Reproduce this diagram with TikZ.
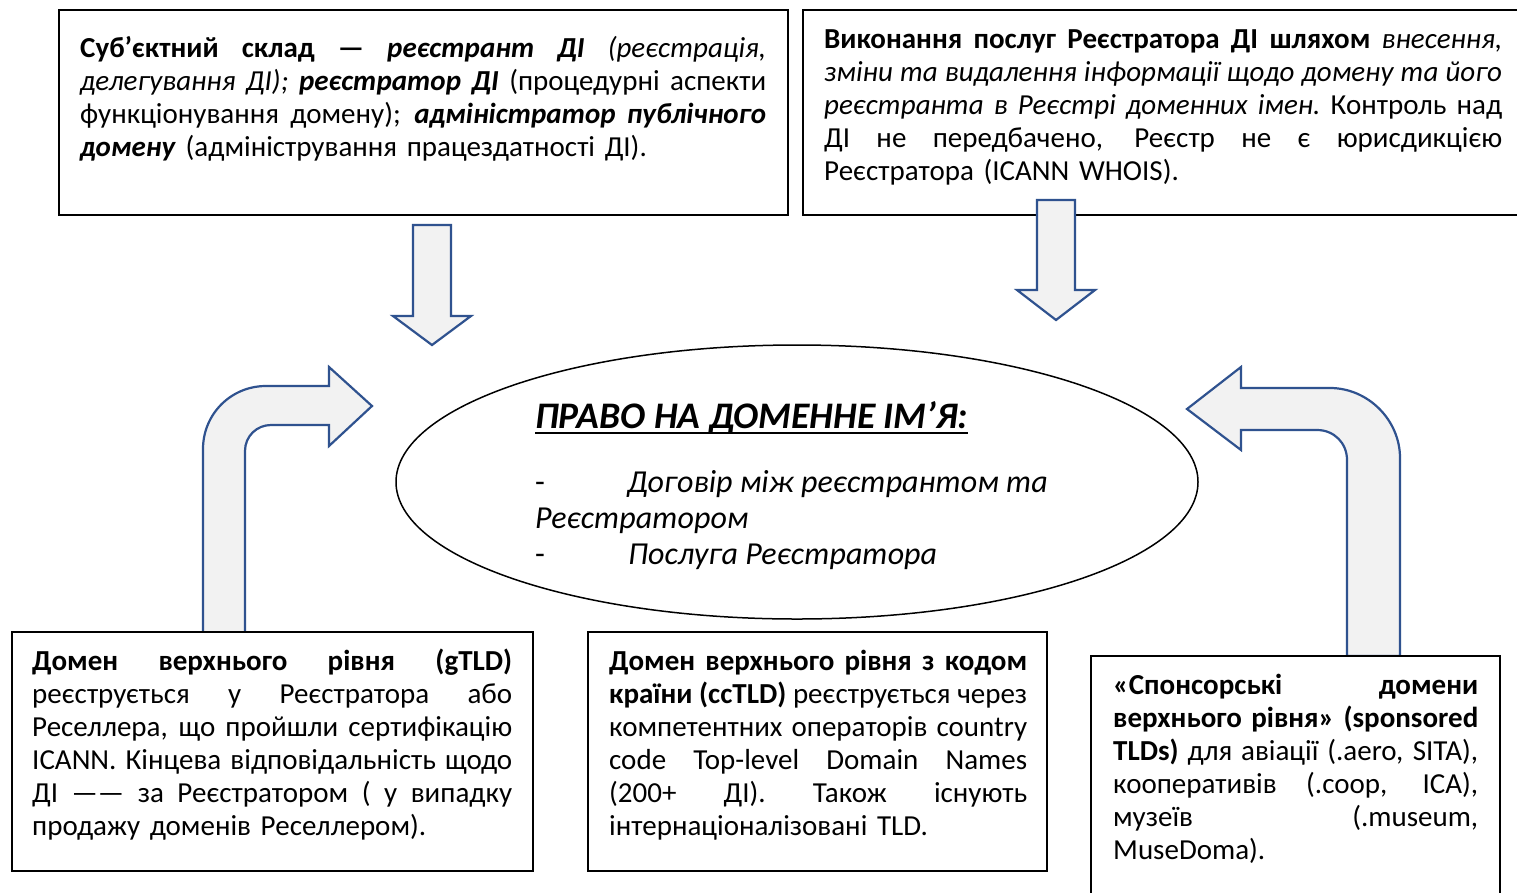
\documentclass[tikz,border=0pt]{standalone}
\usepackage{fontspec}
\setmainfont{Carlito}
\usetikzlibrary{shapes.geometric}
\definecolor{arrowfill}{HTML}{F2F2F2}
\definecolor{arrowline}{HTML}{2F528F}
\newdimen\jwid
\newcommand\jline[1]{\leavevmode\hbox to \jwid{\spaceskip=\fontdimen2\font plus 1fil minus 0.45\fontdimen2\font
  \xspaceskip=\spaceskip\relax #1}\\}
\begin{document}
\begin{tikzpicture}[x=1pt,y=-1pt,
  boxsty/.style={draw=black,line width=2pt,fill=white,inner sep=0pt},
  txt/.style={inner sep=0pt,align=left,anchor=base west,
    font=\fontsize{29}{33}\selectfont},
  eltxt/.style={inner sep=0pt,anchor=base west,font=\fontsize{32}{36}\selectfont\itshape},
  arrowsty/.style={draw=arrowline,fill=arrowfill,line width=2.2pt,line join=miter}]
\useasboundingbox (0,0) rectangle (1517,892);
\fill[white] (0,0) rectangle (1517,892);

% top boxes
\node[boxsty,minimum width=729pt,minimum height=205pt] (b1) at (423.5,112.5) {};
\node[boxsty,minimum width=730pt,minimum height=205pt] (b2) at (1168,112.5) {};

\node[txt,text width=686pt] (t1) at (80,57) {\jwid=686pt\relax
\jline{\textbf{Суб’єктний склад —} \textbf{\textit{реєстрант ДІ}} \textit{(реєстрація,}}
\jline{\textit{делегування ДІ);} \textbf{\textit{реєстратор ДІ}} (процедурні аспекти}
\jline{функціонування домену); \textbf{\textit{адміністратор публічного}}}
\textbf{\textit{домену}} (адміністрування працездатності ДІ).};

\node[txt,text width=678pt] (t2) at (824,48) {\jwid=678pt\relax
\jline{\textbf{Виконання послуг Реєстратора ДІ шляхом} \textit{внесення,}}
\jline{\textit{зміни та видалення інформації щодо домену та його}}
\jline{\textit{реєстранта в Реєстрі доменних імен.} Контроль над}
\jline{ДІ не передбачено, Реєстр не є юрисдикцією}
Реєстратора (ICANN WHOIS).};

% down arrows
\filldraw[arrowsty] (413,225) -- (451,225) -- (451,316) -- (471,316) -- (432,345)
  -- (393,316) -- (413,316) -- cycle;
\filldraw[arrowsty] (1037,200) -- (1075,200) -- (1075,290) -- (1095,290) -- (1056,320)
  -- (1017,290) -- (1037,290) -- cycle;

% ellipse
\node[draw=black,line width=1.5pt,ellipse,minimum width=802pt,minimum height=274pt,inner sep=0pt] (el) at (797,482) {};
\node[inner sep=0pt,anchor=base west,font=\fontsize{37.5}{40}\selectfont\bfseries\itshape] (title) at (535,428) {ПРАВО НА ДОМЕННЕ ІМ’Я:};
\draw[line width=2.6pt] ([yshift=-5pt]title.base west) -- ([yshift=-5pt]title.base east);
\node[eltxt,font=\fontsize{32}{36}\selectfont] (d1) at (535,492) {-};
\node[eltxt] (i1) at (627,492) {Договір між реєстрантом та};
\node[eltxt] (i1b) at (535,528) {Реєстратором};
\node[eltxt,font=\fontsize{32}{36}\selectfont] (d2) at (535,564) {-};
\node[eltxt] (i2) at (628,564) {Послуга Реєстратора};

% bent arrows
\filldraw[arrowsty] (203,633) -- (203,449) .. controls (203,414) and (231,386) .. (266,386)
  -- (329,386) -- (329,367) -- (372,406) -- (329,446) -- (329,425) -- (271,425)
  .. controls (257,425) and (245,436) .. (245,451) -- (245,633) -- cycle;
\filldraw[arrowsty] (1400,656) -- (1400,458) .. controls (1400,420) and (1368,388) .. (1330,388)
  -- (1241,388) -- (1241,367) -- (1187,409) -- (1241,450) -- (1241,430) -- (1317,430)
  .. controls (1334,430) and (1347,443) .. (1347,460) -- (1347,656) -- cycle;

% bottom boxes
\node[boxsty,minimum width=521pt,minimum height=239pt] (b3) at (272.5,751.5) {};
\node[boxsty,minimum width=459pt,minimum height=239pt] (b4) at (817.5,751.5) {};
\node[boxsty,minimum width=409pt,minimum height=250pt] (b5) at (1295.5,781) {};

\node[txt,text width=480pt] (t3) at (32,670) {\jwid=480pt\relax
\jline{\textbf{Домен верхнього рівня (gTLD)}}
\jline{реєструється у Реєстратора або}
\jline{Реселлера, що пройшли сертифікацію}
\jline{ICANN. Кінцева відповідальність щодо}
\jline{ДІ —— за Реєстратором ( у випадку}
продажу доменів Реселлером).};

\node[txt,text width=418pt] (t4) at (609,670) {\jwid=418pt\relax
\jline{\textbf{Домен верхнього рівня з кодом}}
\jline{\textbf{країни (ccTLD)} реєструється через}
\jline{компетентних операторів country}
\jline{code Top-level Domain Names}
\jline{(200+ ДІ). Також існують}
інтернаціоналізовані TLD.};

\node[txt,text width=365pt] (t5) at (1113,694) {\jwid=365pt\relax
\jline{\textbf{«Спонсорські домени}}
\jline{\textbf{верхнього рівня» (sponsored}}
\jline{\textbf{TLDs)} для авіації (.aero, SITA),}
\jline{кооперативів (.coop, ICA),}
\jline{музеїв (.museum,}
MuseDoma).};
\end{tikzpicture}
\end{document}
